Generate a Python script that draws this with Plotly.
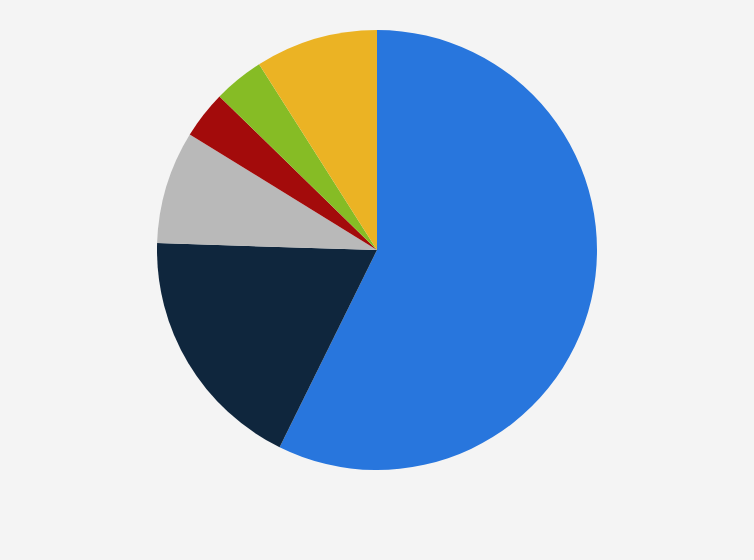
import plotly.graph_objects as go

labels = ["A", "B", "C", "D", "E", "F"]
values = [57.3, 18.2, 8.3, 3.5, 3.7, 9.0]
colors = ["#2876dd", "#0f263d", "#b9b9b9", "#a30b0b", "#86bc25", "#ebb324"]

fig = go.Figure(go.Pie(
    labels=labels, values=values, sort=False, direction="clockwise", rotation=0,
    textinfo="none", marker=dict(colors=colors, line=dict(width=0)),
))
fig.update_layout(
    width=754, height=560, showlegend=False,
    paper_bgcolor="#f4f4f4", plot_bgcolor="#f4f4f4",
    margin=dict(l=0, r=0, t=30, b=90),
)
fig.write_html(
    "out.html",
    config={"displayModeBar": False},
    post_script="document.body.style.margin='0';document.body.style.background='#f4f4f4';",
)
